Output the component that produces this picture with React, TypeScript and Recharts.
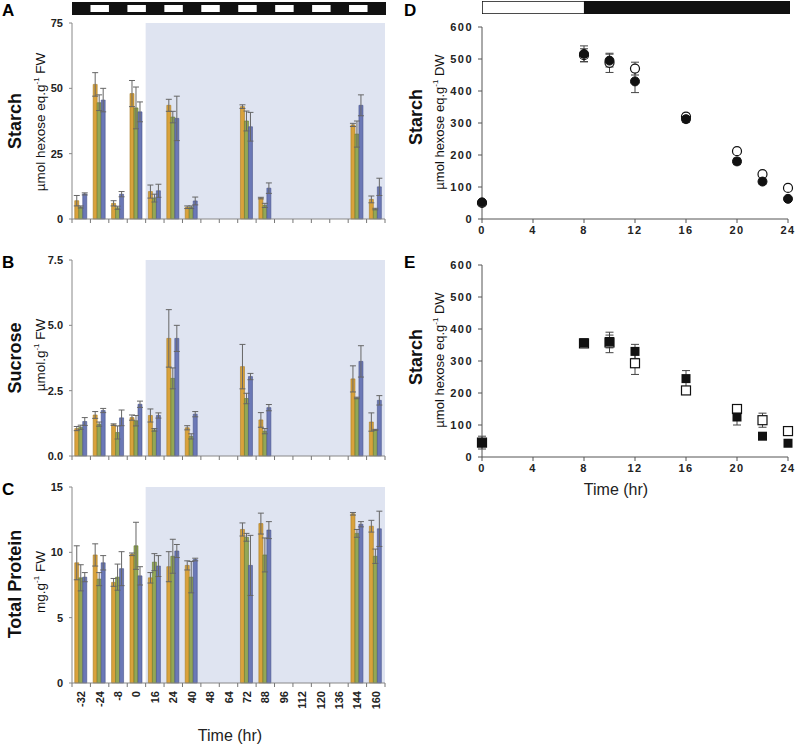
import React from "react";
import { BarChart, Bar, XAxis, YAxis, ErrorBar, ReferenceArea, ScatterChart, Scatter } from "recharts";

// ---- left panels (A-C): sampling times, three genotypes ----
const times = ["-32", "-24", "-8", "0", "16", "24", "40", "48", "64", "72", "88", "96", "112", "120", "136", "144", "160"];
const lightBlocks = [0, 1, 0, 1, 0, 1, 0, 1, 0, 1, 0, 1, 0, 1, 0, 1, 0];
const shadeFrom = "16";
const shadeTo = "160";

const starchOrange = [7, 51.5, 6, 48, 10.5, 43.5, 4.5, null, null, 43, 8, null, null, null, null, 36, 7.5];
const starchGreen = [4.6, 44.5, 4.3, 42.5, 8, 39, 4.5, null, null, 37.5, 5.2, null, null, null, null, 32.5, 3.8];
const starchBlue = [9.6, 45.5, 9.5, 41, 10.8, 38.5, 6.9, null, null, 35.3, 11.8, null, null, null, null, 43.5, 12.3];
const starchOrangeErr = [2, 4.5, 1, 5, 2.5, 2.3, 0.5, null, null, 0.7, 0.3, null, null, null, null, 0.6, 1.3];
const starchGreenErr = [0.4, 3, 0.6, 8, 1.5, 2.2, 0.5, null, null, 3.8, 0.8, null, null, null, null, 5, 0.3];
const starchBlueErr = [0.4, 4.5, 1, 3.8, 2.5, 8.5, 1.5, null, null, 5.5, 2, null, null, null, null, 4, 3.3];

const sucroseOrange = [1.05, 1.57, 1.2, 1.47, 1.55, 4.5, 1.08, null, null, 3.42, 1.38, null, null, null, null, 2.95, 1.3];
const sucroseGreen = [1.1, 1.22, 0.9, 1.35, 1.0, 2.97, 0.75, null, null, 2.2, 0.95, null, null, null, null, 2.22, 1.0];
const sucroseBlue = [1.32, 1.74, 1.46, 1.98, 1.55, 4.5, 1.6, null, null, 3.04, 1.85, null, null, null, null, 3.62, 2.13];
const sucroseOrangeErr = [0.08, 0.13, 0.03, 0.1, 0.25, 1.1, 0.08, null, null, 0.85, 0.28, null, null, null, null, 0.5, 0.35];
const sucroseGreenErr = [0.08, 0.08, 0.25, 0.2, 0.05, 0.4, 0.1, null, null, 0.2, 0.1, null, null, null, null, 0.03, 0.02];
const sucroseBlueErr = [0.15, 0.08, 0.3, 0.12, 0.1, 0.5, 0.1, null, null, 0.12, 0.12, null, null, null, null, 0.6, 0.18];

const proteinOrange = [9.2, 9.8, 7.7, 9.85, 8.05, 8.9, 9.0, null, null, 11.75, 12.2, null, null, null, null, 12.95, 12.0];
const proteinGreen = [8.05, 7.95, 8.1, 10.5, 9.25, 9.7, 8.1, null, null, 11.15, 9.8, null, null, null, null, 11.45, 9.7];
const proteinBlue = [8.1, 9.2, 8.75, 8.2, 8.95, 10.1, 9.45, null, null, 9.0, 11.7, null, null, null, null, 12.15, 11.8];
const proteinOrangeErr = [1.3, 0.85, 0.3, 0.1, 0.4, 1.15, 0.35, null, null, 0.5, 0.8, null, null, null, null, 0.1, 0.45];
const proteinGreenErr = [1, 0.5, 1, 1.8, 0.65, 1.3, 1.2, null, null, 0.3, 1.3, null, null, null, null, 0.3, 0.55];
const proteinBlueErr = [0.35, 0.55, 1.3, 0.7, 0.8, 0.5, 0.1, null, null, 2.3, 0.65, null, null, null, null, 0.2, 1.35];

// ---- right panels (D-E): diel starch ----
const dayPeriod = [{ light: 8, dark: 16 }];
const hours = [0, 8, 10, 12, 16, 20, 22, 24];
const dFilled = [52, 516, 495, 430, 312, 180, 117, 63];
const dFilledErr = [5, 25, 20, 35, 10, 10, 8, 5];
const dOpen = [50, 512, 488, 470, 320, 212, 140, 97];
const dOpenErr = [5, 20, 30, 20, 10, 5, 5, 5];
const eFilled = [45, 357, 361, 330, 245, 125, 65, 43];
const eFilledErr = [20, 10, 20, 22, 25, 25, 5, 8];
const eOpen = [45, 355, 358, 293, 208, 150, 115, 81];
const eOpenErr = [10, 10, 32, 35, 12, 5, 22, 8];

const ORANGE = "#d9a23c";
const GREEN = "#94a755";
const BLUE = "#6b78b6";
const SHADE = "#dfe4f1";
const FONT = "'Liberation Sans', Arial, sans-serif";

const LEFT_X = 72;
const LEFT_R = 385;
const BAND = (LEFT_R - LEFT_X) / times.length;

const tickStyle = { fontFamily: FONT, fontSize: 11, fontWeight: 700, fill: "#222" };

function rows(o: any[], g: any[], b: any[], oe: any[], ge: any[], be: any[]) {
  return times.map((t, i) => ({ t, o: o[i], g: g[i], b: b[i], oe: oe[i], ge: ge[i], be: be[i] }));
}

function BoundaryTick(props: any) {
  const { x, y, payload, index, labels } = props;
  const bx = x - BAND / 2;
  return (
    <g>
      <line x1={bx} x2={bx} y1={y} y2={y + 4} stroke="#777" />
      {index === times.length - 1 && <line x1={x + BAND / 2} x2={x + BAND / 2} y1={y} y2={y + 4} stroke="#777" />}
      {labels && (
        <text x={x + 4} y={y + 8} transform={`rotate(-90 ${x + 4} ${y + 8})`} textAnchor="end" style={tickStyle}>
          {payload.value}
        </text>
      )}
    </g>
  );
}

function BarPanel(props: any) {
  const { data, top, marginTop, domain, ticks, fmt, labels } = props;
  const xh = labels ? 34 : 8;
  const plotH = 196;
  return (
    <div style={{ position: "absolute", left: 0, top }}>
      <BarChart
        width={LEFT_R + 7}
        height={marginTop + plotH + xh}
        data={data}
        margin={{ top: marginTop, right: 7, bottom: 0, left: 0 }}
        barCategoryGap="15%"
        barGap={0}
      >
        <ReferenceArea x1={shadeFrom} x2={shadeTo} fill={SHADE} fillOpacity={1} stroke="none" ifOverflow="visible" />
        <XAxis
          dataKey="t"
          interval={0}
          height={xh}
          tickLine={false}
          tickSize={0}
          tickMargin={0}
          axisLine={{ stroke: "#888" }}
          tick={(p: any) => <BoundaryTick {...p} labels={labels} />}
        />
        <YAxis
          width={LEFT_X}
          domain={domain}
          ticks={ticks}
          tickFormatter={fmt}
          tickSize={3}
          tickMargin={6}
          tick={tickStyle}
          axisLine={{ stroke: "#888" }}
          tickLine={{ stroke: "#888" }}
        />
        <Bar dataKey="o" fill={ORANGE} stroke="#a87a22" strokeWidth={0.6} isAnimationActive={false}>
          <ErrorBar dataKey="oe" width={3} stroke="#666" strokeWidth={1} />
        </Bar>
        <Bar dataKey="g" fill={GREEN} stroke="#657a2e" strokeWidth={0.6} isAnimationActive={false}>
          <ErrorBar dataKey="ge" width={3} stroke="#666" strokeWidth={1} />
        </Bar>
        <Bar dataKey="b" fill={BLUE} stroke="#47528a" strokeWidth={0.6} isAnimationActive={false}>
          <ErrorBar dataKey="be" width={3} stroke="#666" strokeWidth={1} />
        </Bar>
      </BarChart>
    </div>
  );
}

const circleFilled = (p: any) => <circle cx={p.cx} cy={p.cy} r={4.5} fill="#111" stroke="#111" />;
const circleOpen = (p: any) => <circle cx={p.cx} cy={p.cy} r={4.5} fill="#fff" stroke="#111" strokeWidth={1.2} />;
const squareFilled = (p: any) => <rect x={p.cx - 4.5} y={p.cy - 4.5} width={9} height={9} fill="#111" />;
const squareOpen = (p: any) => <rect x={p.cx - 4.5} y={p.cy - 4.5} width={9} height={9} fill="#fff" stroke="#111" strokeWidth={1.2} />;

function pts(vals: number[], errs: number[]) {
  return hours.map((h, i) => ({ h, v: vals[i], e: errs[i] }));
}

function ScatterPanel(props: any) {
  const { top, filled, open, filledShape, openShape } = props;
  const rightTick = { ...tickStyle, fontSize: 11, letterSpacing: 1.5 };
  return (
    <div style={{ position: "absolute", left: 400, top }}>
      <ScatterChart width={397} height={top === 0 ? 27 + 192 + 20 : 20 + 192 + 20} margin={{ top: top === 0 ? 27 : 20, right: 9, bottom: 0, left: 0 }}>
        <XAxis
          type="number"
          dataKey="h"
          domain={[0, 24]}
          ticks={[0, 4, 8, 12, 16, 20, 24]}
          height={20}
          tickSize={4}
          tickMargin={3}
          tick={rightTick}
          axisLine={{ stroke: "#555" }}
          tickLine={{ stroke: "#555" }}
        />
        <YAxis
          type="number"
          dataKey="v"
          width={82}
          domain={[0, 600]}
          ticks={[0, 100, 200, 300, 400, 500, 600]}
          tickSize={4}
          tickMargin={5}
          tick={rightTick}
          axisLine={{ stroke: "#555" }}
          tickLine={{ stroke: "#555" }}
        />
        <Scatter data={open} shape={openShape} isAnimationActive={false}>
          <ErrorBar dataKey="e" direction="y" width={4} stroke="#444" strokeWidth={1} />
        </Scatter>
        <Scatter data={filled} shape={filledShape} isAnimationActive={false}>
          <ErrorBar dataKey="e" direction="y" width={4} stroke="#444" strokeWidth={1} />
        </Scatter>
      </ScatterChart>
    </div>
  );
}

function RotLabel({ x, y, size, bold, children }: any) {
  return (
    <div
      style={{
        position: "absolute",
        left: x,
        top: y,
        transform: "translate(-50%, -50%) rotate(-90deg)",
        whiteSpace: "nowrap",
        fontFamily: FONT,
        fontSize: size,
        fontWeight: bold ? 700 : 400,
        color: "#111",
      }}
    >
      {children}
    </div>
  );
}

function Letter({ x, y, children }: any) {
  return (
    <div style={{ position: "absolute", left: x, top: y, fontFamily: FONT, fontWeight: 700, fontSize: 17, lineHeight: "17px" }}>
      {children}
    </div>
  );
}

const sup = { fontSize: 8, verticalAlign: "super", lineHeight: 0 } as const;

export default function App() {
  const photoRows = times.map((t, i) => ({ t, light: lightBlocks[i] }));
  return (
    <div style={{ position: "absolute", left: 0, top: 0, width: 797, height: 748, background: "#fff", overflow: "hidden" }}>
      {/* photoperiod bar, panels A-C: white blocks = light periods */}
      <div style={{ position: "absolute", left: LEFT_X, top: 2 }}>
        <BarChart width={LEFT_R + 1 - LEFT_X} height={13} data={photoRows} margin={{ top: 3, right: 0, bottom: 3, left: 0 }} style={{ background: "#111" }}>
          <XAxis dataKey="t" hide />
          <YAxis hide domain={[0, 1]} />
          {photoRows
            .filter((r) => r.light === 1)
            .map((r) => (
              <ReferenceArea key={r.t} x1={r.t} x2={r.t} y1={0} y2={1} fill="#fff" fillOpacity={1} stroke="none" />
            ))}
          <Bar dataKey="light" fill="#fff" isAnimationActive={false} />
        </BarChart>
      </div>

      <BarPanel
        top={0}
        marginTop={23}
        data={rows(starchOrange, starchGreen, starchBlue, starchOrangeErr, starchGreenErr, starchBlueErr)}
        domain={[0, 75]}
        ticks={[0, 25, 50, 75]}
        fmt={(v: number) => String(v)}
      />
      <BarPanel
        top={240}
        marginTop={20}
        data={rows(sucroseOrange, sucroseGreen, sucroseBlue, sucroseOrangeErr, sucroseGreenErr, sucroseBlueErr)}
        domain={[0, 7.5]}
        ticks={[0, 2.5, 5, 7.5]}
        fmt={(v: number) => v.toFixed(1)}
      />
      <BarPanel
        top={467}
        marginTop={20}
        labels
        data={rows(proteinOrange, proteinGreen, proteinBlue, proteinOrangeErr, proteinGreenErr, proteinBlueErr)}
        domain={[0, 15]}
        ticks={[0, 5, 10, 15]}
        fmt={(v: number) => String(v)}
      />

      {/* photoperiod bar, panel D */}
      <div style={{ position: "absolute", left: 482, top: 1 }}>
        <BarChart width={308} height={13} data={dayPeriod} layout="vertical" margin={{ top: 0, right: 0, bottom: 0, left: 0 }} barCategoryGap={0}>
          <XAxis type="number" domain={[0, 24]} hide />
          <YAxis type="category" hide />
          <Bar dataKey="light" stackId="p" fill="#fff" stroke="#111" strokeWidth={1.5} isAnimationActive={false} />
          <Bar dataKey="dark" stackId="p" fill="#111" stroke="#111" isAnimationActive={false} />
        </BarChart>
      </div>

      <ScatterPanel top={0} filled={pts(dFilled, dFilledErr)} open={pts(dOpen, dOpenErr)} filledShape={circleFilled} openShape={circleOpen} />
      <ScatterPanel top={245} filled={pts(eFilled, eFilledErr)} open={pts(eOpen, eOpenErr)} filledShape={squareFilled} openShape={squareOpen} />

      <Letter x={2} y={2}>A</Letter>
      <Letter x={2} y={254}>B</Letter>
      <Letter x={2} y={481}>C</Letter>
      <Letter x={404} y={2}>D</Letter>
      <Letter x={404} y={254}>E</Letter>

      <RotLabel x={15} y={121} size={18} bold>Starch</RotLabel>
      <RotLabel x={40} y={122} size={13.5}>µmol hexose eq.g<span style={sup}>-1</span> FW</RotLabel>
      <RotLabel x={15} y={358} size={18} bold>Sucrose</RotLabel>
      <RotLabel x={40} y={355} size={13.5}>µmol.g<span style={sup}>-1</span> FW</RotLabel>
      <RotLabel x={15} y={584} size={18} bold>Total Protein</RotLabel>
      <RotLabel x={40} y={582} size={13.5}>mg.g<span style={sup}>-1</span> FW</RotLabel>

      <RotLabel x={416} y={117} size={18} bold>Starch</RotLabel>
      <RotLabel x={439} y={122} size={13}>µmol hexose eq.g<span style={sup}>-1</span> DW</RotLabel>
      <RotLabel x={416} y={357} size={18} bold>Starch</RotLabel>
      <RotLabel x={439} y={360} size={13}>µmol hexose eq.g<span style={sup}>-1</span> DW</RotLabel>

      <div style={{ position: "absolute", left: 230, top: 736, transform: "translate(-50%, -50%)", fontFamily: FONT, fontWeight: 400, fontSize: 16, color: "#222", whiteSpace: "nowrap" }}>
        Time (hr)
      </div>
      <div style={{ position: "absolute", left: 616, top: 490, transform: "translate(-50%, -50%)", fontFamily: FONT, fontWeight: 400, fontSize: 16, color: "#222", whiteSpace: "nowrap" }}>
        Time (hr)
      </div>
    </div>
  );
}
